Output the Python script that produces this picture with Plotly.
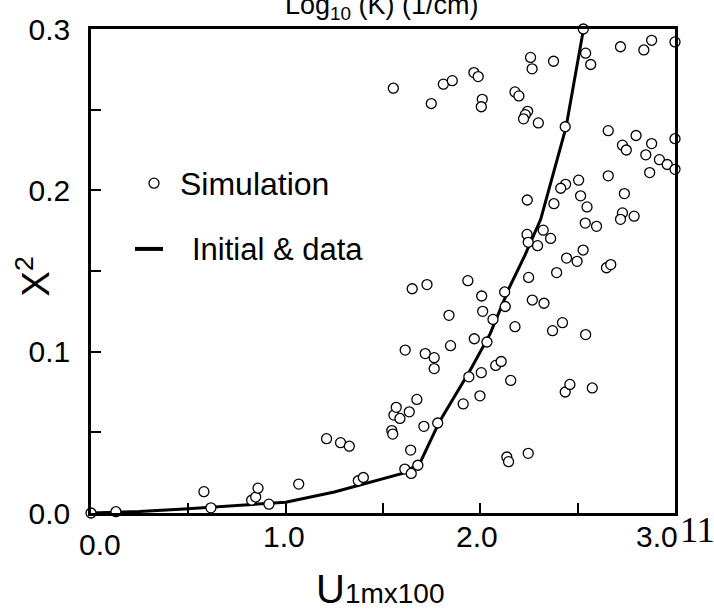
import plotly.graph_objects as go

# ---- data ----
sim_x = [0.0, 0.128, 0.580, 0.616, 0.825, 0.846, 0.858, 0.914, 1.067, 1.210, 1.282, 1.327,
         1.373, 1.399, 1.545, 1.550, 1.556, 1.568, 1.587, 1.635, 1.612, 1.645, 1.679, 1.642,
         1.674, 1.710, 1.781, 1.614, 1.717, 1.763, 1.763, 1.650, 1.726, 1.839, 1.847, 1.912,
         1.941, 1.936, 1.969, 1.998, 2.005, 2.007, 2.012, 2.034, 2.065, 2.079, 2.107, 2.125,
         2.128, 2.136, 2.145, 2.156, 2.178, 2.246, 2.248, 2.267, 2.327, 2.371, 2.422, 2.392,
         2.436, 2.460, 2.443, 2.497, 2.541, 2.575, 2.648, 2.670,
         2.529, 2.541, 2.567, 2.258, 2.266, 2.376, 1.553, 1.810, 1.856, 1.748, 1.967, 1.989,
         2.010, 2.005, 2.178, 2.198, 2.243, 2.231, 2.222, 2.298, 2.436, 2.505, 2.438, 2.413,
         2.515, 2.548, 2.539, 2.597, 2.241, 2.378, 2.240, 2.246, 2.323, 2.361, 2.294, 2.528,
         2.72, 2.84, 2.88, 3.0, 2.657, 2.73, 2.75, 2.80, 2.85, 2.88, 2.92, 2.96, 3.0, 3.0,
         2.87, 2.657, 2.74, 2.79, 2.73, 2.72]
sim_y = [0.0, 0.0008, 0.0132, 0.0032, 0.0079, 0.0099, 0.0154, 0.0055, 0.0179, 0.0461, 0.0436, 0.0414,
         0.020, 0.022, 0.0511, 0.0489, 0.0607, 0.0655, 0.0586, 0.0627, 0.0272, 0.0245, 0.0296, 0.039,
         0.0704, 0.0537, 0.0558, 0.101, 0.0988, 0.0963, 0.0895, 0.139, 0.1416, 0.1225, 0.1037, 0.0676,
         0.0844, 0.144, 0.108, 0.0726, 0.087, 0.1345, 0.125, 0.106, 0.120, 0.0915, 0.0939, 0.137,
         0.128, 0.0347, 0.0318, 0.0822, 0.1155, 0.037, 0.146, 0.132, 0.130, 0.113, 0.118, 0.149,
         0.075, 0.0797, 0.158, 0.156, 0.1106, 0.0775, 0.152, 0.154,
         0.300, 0.285, 0.278, 0.2824, 0.2753, 0.280, 0.2633, 0.2658, 0.268, 0.2538, 0.273, 0.2705,
         0.2564, 0.2518, 0.261, 0.2585, 0.249, 0.2469, 0.2443, 0.2418, 0.2394, 0.2063, 0.2037, 0.2013,
         0.1966, 0.1897, 0.1797, 0.1777, 0.194, 0.1917, 0.1727, 0.1678, 0.1753, 0.1702, 0.1657, 0.163,
         0.289, 0.287, 0.293, 0.292, 0.237, 0.228, 0.225, 0.234, 0.222, 0.229, 0.219, 0.216, 0.232, 0.213,
         0.211, 0.209, 0.198, 0.184, 0.186, 0.182]

line_x = [0, 0.25, 0.5, 0.75, 1.0, 1.25, 1.5, 1.6, 1.69, 1.79, 1.95, 2.05, 2.15, 2.23, 2.31, 2.44, 2.53]
line_y = [0, 0.001, 0.0027, 0.0045, 0.0067, 0.013, 0.021, 0.0245, 0.031, 0.0566, 0.089, 0.111,
          0.140, 0.160, 0.182, 0.239, 0.300]

x_tick_vals = [0.0, 1.0, 2.0, 3.0]
x_tick_text = ["0.0", "1.0", "2.0", "3.0"]
y_tick_vals = [0.0, 0.1, 0.2, 0.3]
y_tick_text = ["0.0", "0.1", "0.2", "0.3"]

# ---- layout geometry (pixels) ----
W, H = 714, 611
L, R, T, B = 91, 675, 20, 513
PW, PH = R - L, B - T


def px(xp):
    return (xp - L) / PW


def py(yp):
    return (B - yp) / PH


SANS = "Liberation Sans, Arial, sans-serif"
SERIF = "Liberation Serif, Times New Roman, serif"

fig = go.Figure()
fig.add_trace(go.Scatter(x=line_x, y=line_y, mode="lines",
                         line=dict(color="black", width=3), showlegend=False,
                         cliponaxis=False))
fig.add_trace(go.Scatter(x=sim_x, y=sim_y, mode="markers",
                         marker=dict(symbol="circle", size=10, color="white",
                                     line=dict(color="black", width=1.3)),
                         showlegend=False, cliponaxis=False))

annotations = []
# x tick labels
x_shift = [9, -2, -3, -18]
y_off = [545, 537, 537, 537]
for v, t, s, yo in zip(x_tick_vals, x_tick_text, x_shift, y_off):
    annotations.append(dict(x=v, y=py(yo), xref="x", yref="paper", text=t, showarrow=False,
                            xanchor="center", yanchor="middle", xshift=s,
                            font=dict(family=SANS, size=30, color="black")))
annotations.append(dict(x=px(678), y=py(530), xref="paper", yref="paper", text="11",
                        showarrow=False, xanchor="left", yanchor="middle",
                        font=dict(family=SERIF, size=36, color="black")))
# title (cut at top)
annotations.append(dict(x=px(382), y=py(-2), xref="paper", yref="paper",
                        text="Log<sub>10</sub> (K) (1/cm)", showarrow=False,
                        xanchor="center", yanchor="middle",
                        font=dict(family=SANS, size=27, color="black")))
# x axis title
annotations.append(dict(x=px(380), y=py(590), xref="paper", yref="paper",
                        text="<span style='font-size:40px'>U</span>1mx100", showarrow=False,
                        xanchor="center", yanchor="middle",
                        font=dict(family=SANS, size=28, color="black")))
# y axis title
annotations.append(dict(x=px(33), y=py(272), xref="paper", yref="paper",
                        text="X<sup>2</sup>", showarrow=False, textangle=-90,
                        xanchor="center", yanchor="middle",
                        font=dict(family=SANS, size=38, color="black")))
# legend
annotations.append(dict(x=px(178), y=py(178), xref="paper", yref="paper", text="Simulation",
                        showarrow=False, xanchor="left", yanchor="middle",
                        font=dict(family=SANS, size=32, color="black")))
annotations.append(dict(x=px(190), y=py(245), xref="paper", yref="paper", text="Initial &amp; data",
                        showarrow=False, xanchor="left", yanchor="middle",
                        font=dict(family=SANS, size=31, color="black")))

shapes = [
    dict(type="circle", xref="paper", yref="paper", xsizemode="pixel", ysizemode="pixel",
         xanchor=px(154), yanchor=py(177), x0=-5, x1=5, y0=-5, y1=5,
         line=dict(color="black", width=1.3), fillcolor="white"),
    dict(type="line", xref="paper", yref="paper", x0=px(135), x1=px(163), y0=py(244), y1=py(244),
         line=dict(color="black", width=4)),
]

fig.update_layout(
    width=W, height=H,
    margin=dict(l=L, r=W - R, t=T, b=H - B, pad=0),
    paper_bgcolor="white", plot_bgcolor="white",
    annotations=annotations, shapes=shapes,
    xaxis=dict(range=[0, 3], showgrid=False, zeroline=False, showline=True, linecolor="black",
               linewidth=2.5, mirror=True, ticks="inside", ticklen=10, tickwidth=2,
               tickcolor="black", tick0=0, dtick=0.5, showticklabels=False),
    yaxis=dict(range=[0, 0.3], showgrid=False, zeroline=False, showline=True, linecolor="black",
               linewidth=2.5, mirror=True, ticks="inside", ticklen=10, tickwidth=2,
               tickcolor="black", tickvals=y_tick_vals, ticktext=y_tick_text,
               minor=dict(ticks="inside", ticklen=10, tickwidth=2, tickcolor="black",
                          tick0=0, dtick=0.05),
               tickfont=dict(family=SANS, size=30, color="black"), ticklabelstandoff=12),
)

fig.write_html("out.html")
